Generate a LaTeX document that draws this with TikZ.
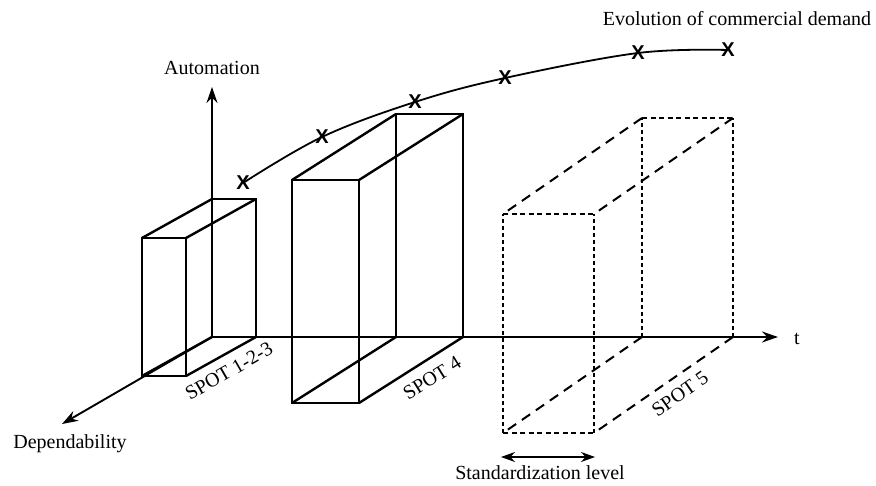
\documentclass[tikz,border=0pt]{standalone}
\usepackage{fontspec}
\setmainfont{Liberation Serif}
\newfontfamily\xmarkfont{Liberation Sans}
\usetikzlibrary{arrows.meta}
\newcommand\mkbox[7]{%
  \coordinate (#1b1) at (#2,#3);
  \coordinate (#1b2) at ({#2+#4},#3);
  \coordinate (#1b3) at ({#2+#4},{#3-#5});
  \coordinate (#1b4) at (#2,{#3-#5});
  \coordinate (#1f1) at ({#2+#6},{#3+#7});
  \coordinate (#1f2) at ({#2+#4+#6},{#3+#7});
  \coordinate (#1f3) at ({#2+#4+#6},{#3-#5+#7});
  \coordinate (#1f4) at ({#2+#6},{#3-#5+#7});
}
\begin{document}
\begin{tikzpicture}[x=1pt,y=-1pt,
  axis/.style={line width=1.9pt,-{Stealth[length=16pt,width=11pt]}},
  solidbox/.style={line width=2.4pt,line join=miter},
  dashv/.style={line width=2pt,dash pattern=on 4pt off 3pt},
  dashh/.style={line width=2pt,dash pattern=on 5pt off 3.5pt},
  dasho/.style={line width=2pt,dash pattern=on 10pt off 7pt},
  lbl/.style={font=\fontsize{20}{24}\selectfont,inner sep=0pt},
  xmark/.style={font=\xmarkfont\bfseries\fontsize{20}{22}\selectfont,inner sep=0pt},
  demand/.style={line width=1.8pt},
  twoarrow/.style={line width=1.8pt,{Stealth[length=14pt,width=10pt]}-{Stealth[length=14pt,width=10pt]}}]
\useasboundingbox (0,0) rectangle (876,485);
% axes
\coordinate (O) at (212,337);
\coordinate (Atop) at (212,87);
\coordinate (Tend) at (778,337);
\coordinate (Dend) at (62,424);
\draw[axis] (O) -- (Atop);
\draw[axis] (O) -- (Tend);
\draw[axis] (O) -- (Dend);
% boxes
\mkbox{A}{212}{337}{44}{138}{-70}{39}
\mkbox{B}{396}{337}{67}{223}{-104}{66}
\mkbox{C}{642}{337}{91}{219}{-139}{96}
\foreach \b in {A,B}{
  \draw[solidbox] (\b b1) -- (\b b2) -- (\b b3) -- (\b b4) -- cycle;
  \draw[solidbox] (\b f1) -- (\b f2) -- (\b f3) -- (\b f4) -- cycle;
  \draw[solidbox] (\b b1) -- (\b f1);
  \draw[solidbox] (\b b2) -- (\b f2);
  \draw[solidbox] (\b b3) -- (\b f3);
  \draw[solidbox] (\b b4) -- (\b f4);
}
\draw[dashv] (Cb1) -- (Cb4);
\draw[dashv] (Cb2) -- (Cb3);
\draw[dashv] (Cf1) -- (Cf4);
\draw[dashv] (Cf2) -- (Cf3);
\draw[dashh] (Cb4) -- (Cb3);
\draw[dashh] (Cf4) -- (Cf3);
\draw[dashh] (Cf1) -- (Cf2);
\draw[dasho] (Cb1) -- (Cf1);
\draw[dasho] (Cb2) -- (Cf2);
\draw[dasho] (Cb3) -- (Cf3);
\draw[dasho] (Cb4) -- (Cf4);
% demand curve
\node[xmark] (x1) at (243,183) {X};
\node[xmark] (x2) at (322,137) {X};
\node[xmark] (x3) at (415,102) {X};
\node[xmark] (x4) at (505,78) {X};
\node[xmark] (x5) at (638,53) {X};
\node[xmark] (x6) at (728,50) {X};
\draw[demand] plot[smooth,tension=0.6] coordinates {(x1.center) (x2.center) (x3.center) (x4.center) (x5.center) (x6.center)};
% labels
\node[lbl] (auto) at (212,68) {Automation};
\node[lbl] (evol) at (737,19) {Evolution of commercial demand};
\node[lbl] (dep) at (70,444) {Dependability};
\node[lbl] (tlbl) at (797,339) {t};
\node[lbl,rotate=30] (s123) at (229,371) {SPOT 1-2-3};
\node[lbl,rotate=32] (s4) at (432,378) {SPOT 4};
\node[lbl,rotate=35] (s5) at (680,394) {SPOT 5};
\coordinate (sa) at (501,457);
\coordinate (sb) at (595,457);
\draw[twoarrow] (sa) -- (sb);
\node[lbl] (std) at (540,473) {Standardization level};
\end{tikzpicture}
\end{document}
